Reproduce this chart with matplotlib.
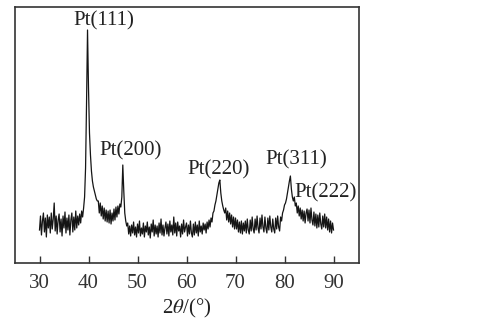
import numpy as np
import matplotlib
matplotlib.use("Agg")
import matplotlib.pyplot as plt

plt.rcParams['font.family'] = ['Liberation Serif', 'DejaVu Serif']
plt.rcParams['mathtext.fontset'] = 'stix'

# 2theta from 30 to 90 step 0.2
two_theta_start = 30.0
two_theta_step = 0.2
intensity = [
    33, 47, 28, 42, 50, 31, 45, 26, 48, 35,   # 30.0-31.8
    46, 30, 50, 34, 44, 60, 32, 47, 29, 43,   # 32.0-33.8
    49, 31, 44, 27, 47, 35, 51, 30, 45, 33,   # 34.0-35.8
    48, 28, 43, 50, 31, 46, 33, 52, 35, 47,   # 36.0-37.8
    38, 49, 40, 52, 46, 55, 66, 95, 160, 233, # 38.0-39.8
    175, 130, 108, 92, 82, 76, 72, 68, 64, 62, # 40.0-41.8
    62, 50, 60, 47, 57, 44, 55, 42, 53, 41,   # 42.0-43.8
    52, 40, 53, 39, 50, 42, 54, 43, 56, 46,   # 44.0-45.8
    57, 49, 59, 56, 66, 98, 72, 50, 42, 37,   # 46.0-47.8
    40, 29, 37, 27, 38, 30, 41, 28, 36, 26,   # 48.0-49.8
    39, 30, 42, 27, 35, 29, 40, 26, 37, 31,   # 50.0-51.8
    41, 28, 36, 25, 39, 31, 43, 27, 38, 29,   # 52.0-53.8
    37, 26, 40, 30, 44, 28, 38, 27, 35, 41,   # 54.0-55.8
    29, 39, 27, 42, 31, 38, 28, 46, 30, 40,   # 56.0-57.8
    27, 41, 32, 37, 26, 39, 29, 43, 31, 36,   # 58.0-59.8
    40, 27, 38, 29, 42, 30, 26, 39, 28, 41,   # 60.0-61.8
    30, 38, 27, 42, 31, 37, 29, 40, 33, 39,   # 62.0-63.8
    30, 41, 34, 43, 36, 45, 41, 50, 52, 58,   # 64.0-65.8
    62, 68, 74, 80, 83, 70, 62, 57, 53, 50,   # 66.0-67.8
    55, 43, 52, 41, 50, 39, 48, 36, 46, 34,   # 68.0-69.8
    45, 34, 43, 31, 41, 30, 42, 29, 40, 32,   # 70.0-71.8
    42, 30, 44, 33, 29, 43, 32, 46, 34, 30,   # 72.0-73.8
    44, 33, 47, 35, 30, 45, 34, 48, 36, 31,   # 74.0-75.8
    46, 35, 30, 45, 33, 47, 36, 31, 44, 34,   # 76.0-77.8
    30, 45, 34, 47, 36, 32, 46, 42, 50, 53,   # 78.0-79.8
    58, 60, 64, 70, 76, 82, 87, 74, 66, 62,   # 80.0-81.8
    66, 57, 60, 50, 57, 47, 55, 44, 53, 42,   # 82.0-83.8
    52, 40, 50, 54, 42, 53, 40, 55, 43, 38,   # 84.0-85.8
    51, 37, 49, 35, 48, 36, 50, 39, 34, 47,   # 86.0-87.8
    36, 49, 35, 46, 33, 44, 31, 42, 30, 40,   # 88.0-89.8
    33,                                       # 90.0
]
two_theta = two_theta_start + two_theta_step * np.arange(len(intensity))

peak_labels = ['Pt(111)', 'Pt(200)', 'Pt(220)', 'Pt(311)', 'Pt(222)']
label_x = [43.06, 48.57, 66.53, 82.45, 88.37]
label_y = [242, 112, 93, 103, 70]

xticks = [30, 40, 50, 60, 70, 80, 90]

fig = plt.figure(figsize=(4.86, 3.22), dpi=100)
ax = fig.add_axes([15/486, 1-263/322, (359-15)/486, (263-7)/322])
ax.plot(two_theta, intensity, color='#151515', lw=0.9)
ax.set_xlim(25, 95.2)
ax.set_ylim(0, 256)
ax.set_xticks(xticks)
ax.set_yticks([])
ax.tick_params(axis='x', direction='in', length=5, width=1.0, pad=8,
               labelsize=15, colors='#333333')
for s in ax.spines.values():
    s.set_linewidth(1.2)
    s.set_color('#333333')
for t, x, y in zip(peak_labels, label_x, label_y):
    ax.text(x, y, t, ha='center', va='center', fontsize=15, color='#222222')
ax.set_xlabel(r'2$\theta$/(°)', fontsize=15, color='#222222', labelpad=3)

fig.savefig('out.png', dpi=100, facecolor='white')
